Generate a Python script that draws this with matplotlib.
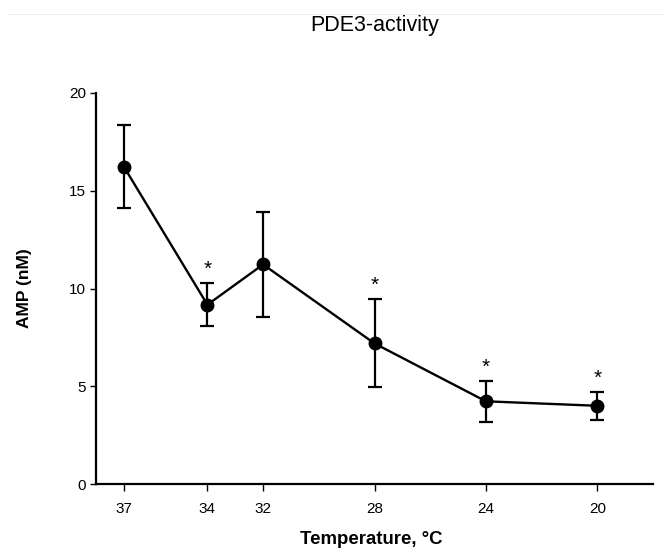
import matplotlib
matplotlib.use("Agg")
import matplotlib.pyplot as plt
from matplotlib.lines import Line2D

plt.rcParams['font.family'] = ['Liberation Sans', 'DejaVu Sans']

temperature = [37, 34, 32, 28, 24, 20]
amp = [16.23, 9.17, 11.23, 7.19, 4.23, 4.00]
amp_err = [2.13, 1.10, 2.70, 2.25, 1.04, 0.73]
significant = [False, True, False, True, True, True]
x_ticks = [37, 34, 32, 28, 24, 20]
y_ticks = [0, 5, 10, 15, 20]

fig = plt.figure(figsize=(6.71, 5.49), dpi=100)
ax = fig.add_axes([96/671, 1-484/549, (653-96)/671, (484-93)/549])

ax.errorbar(temperature, amp, yerr=amp_err, color='black', lw=1.7,
            marker='o', markersize=9, capsize=5, capthick=1.6, elinewidth=1.6)

for t, v, e, s in zip(temperature, amp, amp_err, significant):
    if s:
        ax.annotate('*', xy=(t, v + e), xytext=(0, 3), textcoords='offset points',
                    ha='center', va='bottom', fontsize=15)

ax.set_xlim(38, 18)
ax.set_ylim(0, 20)
ax.set_xticks(x_ticks)
ax.set_xticklabels([str(t) for t in x_ticks])
ax.set_yticks(y_ticks)
ax.set_yticklabels([str(t) for t in y_ticks])
for s in ['top', 'right']:
    ax.spines[s].set_visible(False)
for s in ['left', 'bottom']:
    ax.spines[s].set_linewidth(1.6)
ax.tick_params(axis='y', length=4, width=1, labelsize=11, pad=3)
ax.tick_params(axis='x', length=5, width=1, labelsize=11, pad=8)

ax.set_ylabel('AMP (nM)', fontsize=12.5, fontweight='bold')
ax.yaxis.set_label_coords(-0.115, 0.5)
fig.text(371/671, 1-540/549, 'Temperature, °C', ha='center', va='center',
         fontsize=13.4, fontweight='bold')
fig.text(374.5/671, 1-25/549, 'PDE3-activity', ha='center', va='center', fontsize=15.5)

fig.add_artist(Line2D([0.01, 0.99], [1-14/549, 1-14/549], color='#eeeeee', lw=0.8,
                      transform=fig.transFigure))

fig.savefig('out.png', dpi=100)
